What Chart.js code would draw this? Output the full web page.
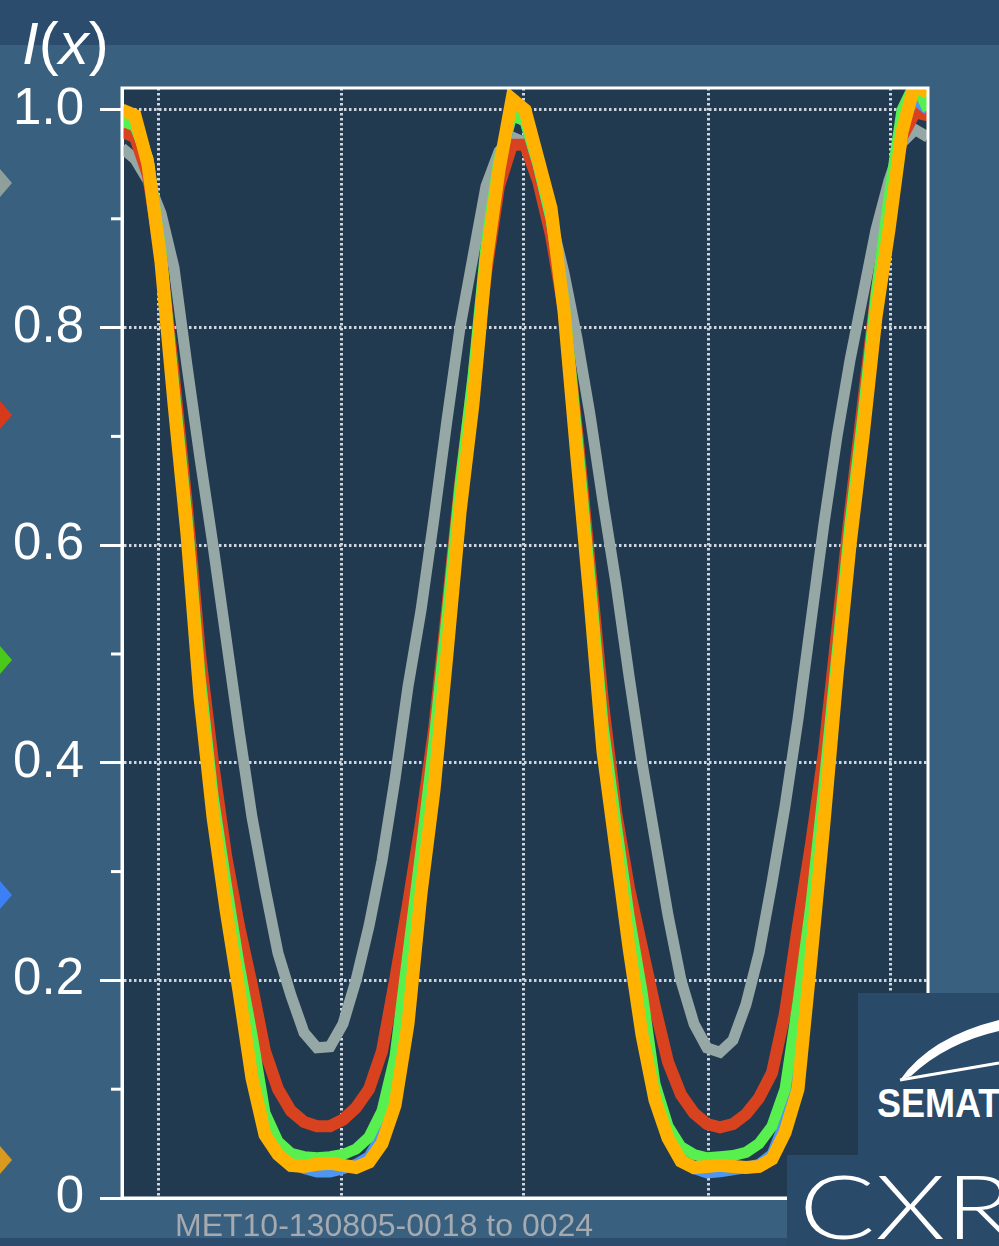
<!DOCTYPE html>
<html>
<head>
<meta charset="utf-8">
<script src="https://cdn.jsdelivr.net/npm/chart.js@4.4.0/dist/chart.umd.min.js"></script>
<style>
  html, body { margin: 0; padding: 0; }
  body {
    width: 999px; height: 1246px; overflow: hidden; position: relative;
    background: #3a6080; font-family: "Liberation Sans", Arial, sans-serif;
  }
  .band-top { position: absolute; left: 0; top: 0; width: 999px; height: 45px; background: #2b4c6c; }
  .band-bottom { position: absolute; left: 0; top: 1238px; width: 999px; height: 8px; background: #2b4c6c; }
  #wrap { position: absolute; left: 0; top: 0; width: 999px; height: 1246px; }
  .title {
    position: absolute; left: 22px; top: 14px; color: #fff;
    font-size: 60px; line-height: 60px; white-space: nowrap;
  }
  .footer {
    position: absolute; left: 175px; top: 1209px; color: #a4aab0;
    font-size: 32px; line-height: 32px; white-space: nowrap;
  }
  .logo-sema {
    position: absolute; left: 858px; top: 993px; width: 141px; height: 162px;
    background: #2a4a6a; overflow: hidden;
  }
  .logo-sema span {
    position: absolute; left: 19px; top: 90px; color: #fff; font-weight: bold;
    font-size: 40px; line-height: 40px; transform: scaleX(0.9); transform-origin: left top;
    white-space: nowrap;
  }
  .logo-cxro {
    position: absolute; left: 787px; top: 1155px; width: 212px; height: 91px;
    background: #2a4a6a; overflow: hidden;
  }
  .logo-cxro span {
    position: absolute; left: 12px; top: 6px; color: #fff; font-family: Lato, "Open Sans", sans-serif;
    font-weight: 300; font-size: 88px; line-height: 88px; white-space: nowrap;
    transform: scaleX(1.28); transform-origin: left top;
  }
</style>
</head>
<body>
<div class="band-top"></div>
<div class="band-bottom"></div>
<div id="wrap"><canvas id="chart"></canvas></div>
<div class="title"><i>I</i>(<i>x</i>)</div>
<div class="footer">MET10-130805-0018 to 0024</div>
<div class="logo-sema">
  <svg width="141" height="90" style="position:absolute;left:0;top:0">
    <path d="M42,87 Q72,44 141,27 L141,38 Q88,50 53,83 Z" fill="#fff"/>
    <path d="M42,87 L141,70" stroke="#fff" stroke-width="3" fill="none"/>
  </svg>
  <span>SEMATECH</span>
</div>
<div class="logo-cxro"><span>CXRO</span></div>
<script>
// sample position along the profile (index of the line cut)
const xPos = [0, 1, 2, 3, 4, 5, 6, 7, 8, 9, 10, 11, 12, 13, 14, 15, 16, 17, 18, 19, 20,
  21, 22, 23, 24, 25, 26, 27, 28, 29, 30, 31, 32, 33, 34, 35, 36, 37, 38, 39, 40,
  41, 42, 43, 44, 45, 46, 47, 48, 49, 50, 51, 52, 53, 54, 55, 56, 57, 58, 59, 60, 61, 62];

// normalized intensity I(x)
const grayVals = [0.965, 0.955, 0.935, 0.905, 0.855, 0.765, 0.68, 0.6, 0.515, 0.43, 0.35,
  0.285, 0.225, 0.186, 0.152, 0.138, 0.139, 0.16, 0.2, 0.25, 0.31,
  0.385, 0.47, 0.54, 0.625, 0.715, 0.8, 0.865, 0.93, 0.962, 0.975,
  0.97, 0.945, 0.9, 0.85, 0.79, 0.72, 0.64, 0.565, 0.48, 0.4,
  0.33, 0.26, 0.2, 0.16, 0.138, 0.134, 0.145, 0.178, 0.225, 0.29,
  0.36, 0.44, 0.53, 0.62, 0.7, 0.77, 0.83, 0.89, 0.935, 0.97, 0.982, 0.975];

const redVals = [0.98, 0.975, 0.94, 0.865, 0.755, 0.635, 0.5, 0.4, 0.315, 0.25, 0.195,
  0.135, 0.1, 0.08, 0.07, 0.066, 0.066, 0.072, 0.083, 0.1, 0.135,
  0.2, 0.27, 0.345, 0.43, 0.54, 0.655, 0.75, 0.85, 0.93, 0.968,
  0.968, 0.935, 0.885, 0.815, 0.705, 0.58, 0.455, 0.355, 0.285, 0.23,
  0.175, 0.125, 0.095, 0.078, 0.068, 0.065, 0.068, 0.077, 0.092, 0.115,
  0.17, 0.25, 0.325, 0.41, 0.52, 0.63, 0.73, 0.83, 0.91, 0.975, 0.998, 0.995];

const greenVals = [0.99, 0.985, 0.955, 0.87, 0.745, 0.625, 0.48, 0.37, 0.29, 0.215, 0.15,
  0.078, 0.052, 0.041, 0.038, 0.037, 0.038, 0.04, 0.045, 0.056, 0.08,
  0.13, 0.225, 0.32, 0.42, 0.535, 0.655, 0.755, 0.875, 0.955, 0.995,
  0.99, 0.95, 0.9, 0.825, 0.7, 0.57, 0.435, 0.345, 0.26, 0.19,
  0.105, 0.066, 0.047, 0.04, 0.037, 0.038, 0.039, 0.042, 0.05, 0.066,
  0.1, 0.18, 0.27, 0.38, 0.5, 0.62, 0.72, 0.83, 0.92, 1.0, 1.025, 1.0];

const blueVals = [0.995, 0.99, 0.955, 0.865, 0.74, 0.62, 0.47, 0.36, 0.275, 0.2, 0.12,
  0.065, 0.042, 0.032, 0.027, 0.024, 0.024, 0.027, 0.031, 0.038, 0.058,
  0.095, 0.18, 0.29, 0.39, 0.515, 0.64, 0.74, 0.865, 0.95, 0.995,
  0.99, 0.95, 0.9, 0.82, 0.69, 0.56, 0.42, 0.33, 0.24, 0.16,
  0.095, 0.058, 0.036, 0.027, 0.023, 0.024, 0.026, 0.028, 0.031, 0.04,
  0.07, 0.12, 0.24, 0.36, 0.49, 0.61, 0.71, 0.82, 0.905, 0.99, 1.01, 1.0];

const yellowVals = [1.0, 0.995, 0.95, 0.86, 0.73, 0.61, 0.46, 0.35, 0.265, 0.19, 0.11,
  0.058, 0.04, 0.03, 0.029, 0.031, 0.032, 0.03, 0.028, 0.033, 0.05,
  0.085, 0.16, 0.28, 0.375, 0.5, 0.63, 0.73, 0.86, 0.945, 1.01,
  1.0, 0.955, 0.91, 0.815, 0.68, 0.55, 0.41, 0.32, 0.23, 0.15,
  0.09, 0.055, 0.034, 0.028, 0.029, 0.03, 0.029, 0.028, 0.029, 0.036,
  0.06, 0.1, 0.22, 0.345, 0.48, 0.6, 0.7, 0.81, 0.89, 0.98, 1.025, 1.015];

const yTicks = [0, 0.2, 0.4, 0.6, 0.8, 1.0];
const yTickLabels = ['0', '0.2', '0.4', '0.6', '0.8', '1.0'];
const yMinorTicks = [0.1, 0.3, 0.5, 0.7, 0.9];
const xGridLines = [2.77, 16.85, 30.92, 45.08, 59.15];

const gridColor = '#cdd6de';

function toPoints(vals) {
  return xPos.map((x, i) => ({ x: x, y: vals[i] }));
}

// plot background, frame, minor ticks and the clipped legend markers at the left edge
const plotDecor = {
  id: 'plotDecor',
  beforeDraw(chart) {
    const { ctx, chartArea: a } = chart;
    ctx.save();
    ctx.fillStyle = '#223a4f';
    ctx.fillRect(a.left, a.top, a.right - a.left, a.bottom - a.top);
    ctx.restore();
  },
  afterDraw(chart) {
    const { ctx, chartArea: a } = chart;
    const yScale = chart.scales.y;
    ctx.save();
    ctx.strokeStyle = '#fff';
    ctx.lineWidth = 3;
    ctx.strokeRect(a.left, a.top, a.right - a.left, a.bottom - a.top);
    yMinorTicks.forEach(v => {
      const py = yScale.getPixelForValue(v);
      ctx.beginPath();
      ctx.moveTo(a.left - 11, py);
      ctx.lineTo(a.left, py);
      ctx.stroke();
    });
    const markers = [
      { y: 183, c: '#8fa09a' },
      { y: 415, c: '#d63a1b' },
      { y: 660, c: '#49c91a' },
      { y: 895, c: '#3d7ff5' },
      { y: 1160, c: '#d99a1f' }
    ];
    markers.forEach(m => {
      ctx.fillStyle = m.c;
      ctx.beginPath();
      ctx.moveTo(0, m.y - 14);
      ctx.lineTo(12, m.y);
      ctx.lineTo(0, m.y + 14);
      ctx.closePath();
      ctx.fill();
    });
    ctx.restore();
  }
};

const lineStyle = {
  pointRadius: 0,
  tension: 0,
  clip: 0,
  borderJoinStyle: 'miter',
  fill: false
};

new Chart(document.getElementById('chart'), {
  type: 'line',
  data: {
    datasets: [
      Object.assign({ label: 'gray', data: toPoints(grayVals), borderColor: '#96a8a5', borderWidth: 11, order: 4 }, lineStyle),
      Object.assign({ label: 'red', data: toPoints(redVals), borderColor: '#d8421e', borderWidth: 12, order: 3 }, lineStyle),
      Object.assign({ label: 'green', data: toPoints(greenVals), borderColor: '#58f04e', borderWidth: 11, order: 1 }, lineStyle),
      Object.assign({ label: 'blue', data: toPoints(blueVals), borderColor: '#4d96f2', borderWidth: 11, order: 2 }, lineStyle),
      Object.assign({ label: 'yellow', data: toPoints(yellowVals), borderColor: '#ffb300', borderWidth: 13, order: 0 }, lineStyle)
    ]
  },
  options: {
    responsive: true,
    maintainAspectRatio: false,
    animation: false,
    devicePixelRatio: 1,
    layout: { padding: { left: 0, top: 88, right: 71, bottom: 48 } },
    plugins: {
      legend: { display: false },
      tooltip: { enabled: false }
    },
    scales: {
      x: {
        type: 'linear',
        min: 0,
        max: 62,
        afterBuildTicks: scale => { scale.ticks = xGridLines.map(v => ({ value: v })); },
        ticks: { display: false },
        grid: { color: gridColor, lineWidth: 3, drawTicks: false, borderDash: [2.5, 2.5] },
        border: { display: true, color: '#fff', width: 3, dash: [2.5, 2.5] }
      },
      y: {
        min: 0,
        max: 1.0202,
        afterFit: scale => { scale.width = 122; },
        afterBuildTicks: scale => { scale.ticks = yTicks.map(v => ({ value: v })); },
        ticks: {
          color: '#fff',
          padding: 16,
          font: { family: 'Liberation Sans', size: 51 },
          callback: (value, index) => yTickLabels[index]
        },
        grid: {
          color: ctx => (ctx.tick && ctx.tick.value === 0) ? 'rgba(0,0,0,0)' : gridColor,
          lineWidth: 3,
          tickLength: 22,
          tickColor: '#fff',
          tickWidth: 3,
          borderDash: [2.5, 2.5]
        },
        border: { display: true, color: '#fff', width: 3, dash: [2.5, 2.5] }
      }
    }
  },
  plugins: [plotDecor]
});
</script>
</body>
</html>
